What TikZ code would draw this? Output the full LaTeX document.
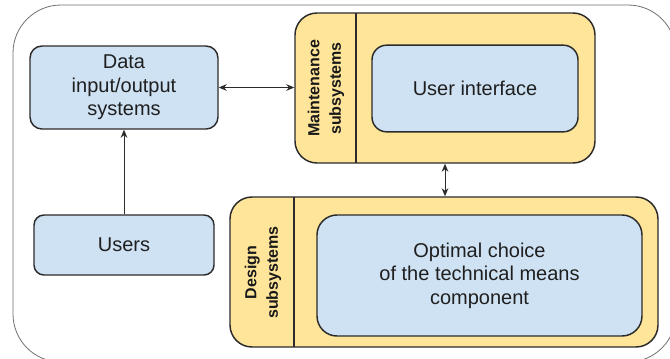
\documentclass[tikz,border=0pt]{standalone}
\usepackage{fontspec}
\setmainfont{Liberation Sans}
\usetikzlibrary{arrows.meta}
\definecolor{boxblue}{HTML}{CFE2F3}
\definecolor{boxyellow}{HTML}{FFE599}
\definecolor{edge}{HTML}{2B2B2B}
\definecolor{framegray}{HTML}{6E6E6E}
\begin{document}
\begin{tikzpicture}[x=0.75pt,y=-0.75pt,
  bluebox/.style={draw=edge,line width=1.1pt,fill=boxblue,align=center,
    font=\fontsize{15}{17.5}\selectfont,text=black!88,inner sep=0pt},
  groupbox/.style={draw=edge,line width=1.1pt,fill=boxyellow,inner sep=0pt,rounded corners=16.5pt},
  grouplabel/.style={rotate=90,align=center,font=\fontsize{12}{16}\selectfont\bfseries,text=black!90},
  link/.style={edge,line width=0.65pt,{Stealth[length=6pt,width=5pt]}-{Stealth[length=6pt,width=5pt]}},
  uplink/.style={edge,line width=0.65pt,-{Stealth[length=6pt,width=5pt]}}]
\useasboundingbox (0,0) rectangle (670,358);

% outer frame
\draw[framegray,line width=0.6pt,rounded corners=36pt] (13,5) rectangle (676,362);

% maintenance group with its inner block
\node[groupbox,minimum width=225pt,minimum height=112.5pt] (maint) at (445,88) {};
\draw[edge,line width=1.1pt] (356,13) -- (356,163);
\node[grouplabel] (maintlbl) at (326,88.5) {Maintenance\\subsystems};
\node[bluebox,rounded corners=11pt,minimum width=154.5pt,minimum height=65pt] (ui) at (475,88.5) {User interface};

% design group with its inner block
\node[groupbox,minimum width=321pt,minimum height=112.5pt] (design) at (444,272) {};
\draw[edge,line width=1.1pt] (294,197) -- (294,347);
\node[grouplabel] (designlbl) at (263,272.5) {Design\\subsystems};
\node[bluebox,rounded corners=15pt,minimum width=243.75pt,minimum height=90.75pt] (optimal) at (479.5,275.5)
  {Optimal choice\\of the technical means\\component};

% left column
\node[bluebox,rounded corners=9pt,minimum width=141pt,minimum height=62.25pt] (data) at (124,87.5)
  {Data\\input/output\\systems};
\node[bluebox,rounded corners=7.5pt,minimum width=135pt,minimum height=45pt] (users) at (124,245) {Users};

% connectors
\draw[link] (data.east) -- (maint.west |- data.east);
\draw[link] (maint.south) -- (maint.south |- design.north);
\draw[uplink] (users.north) -- (data.south);
\end{tikzpicture}
\end{document}
